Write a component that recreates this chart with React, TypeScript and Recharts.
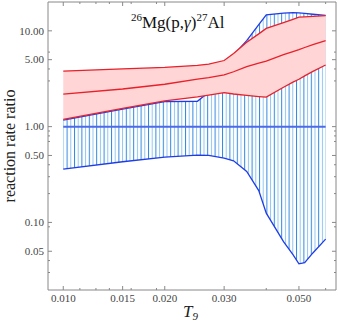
import { ComposedChart, Area, Line, XAxis, YAxis, ReferenceLine } from 'recharts'

const temps = [0.010, 0.015, 0.020, 0.025, 0.027, 0.030, 0.032, 0.035, 0.038, 0.040, 0.045, 0.048, 0.050, 0.052, 0.055, 0.060]
const redHigh = [3.8, 4.0, 4.15, 4.35, 4.5, 4.9, 5.8, 7.6, 9.3, 10.6, 12.2, 13.2, 13.9, 14.0, 14.15, 14.4]
const redMid = [2.18, 2.47, 2.77, 3.13, 3.25, 3.47, 3.74, 4.24, 4.6, 4.84, 5.63, 6.08, 6.35, 6.7, 7.16, 7.9]
const redLow = [1.19, 1.55, 1.86, 2.04, 2.13, 2.26, 2.19, 2.12, 2.06, 2.03, 2.58, 2.91, 3.12, 3.39, 3.78, 4.4]
const blueHigh = [1.17, 1.52, 1.82, 1.84, 2.3, 4.5, 5.6, 7.9, 11.6, 14.7, 15.3, 15.5, 15.4, 15.2, 14.9, 14.5]
const blueLow = [0.36, 0.43, 0.48, 0.505, 0.5, 0.47, 0.44, 0.34, 0.215, 0.125, 0.063, 0.046, 0.037, 0.038, 0.048, 0.067]

const xMajor = [0.010, 0.015, 0.020, 0.030, 0.050]
const xMinor = [0.0112, 0.0125, 0.0137, 0.0159, 0.0189, 0.040, 0.060]
const yMajor = [0.05, 0.1, 0.5, 1, 5, 10]
const yMinor = [0.03, 0.04, 0.09, 0.2, 0.3, 0.4, 0.7, 0.8, 0.9, 3, 4, 6]

const data = temps.map((t, i) => ({
  t,
  red: [redLow[i], redHigh[i]],
  mid: redMid[i],
  blue: [blueLow[i], blueHigh[i]],
}))

const FONT = '"Liberation Serif", "DejaVu Serif", serif'
const AXIS = '#888'
const RED = '#e8202a'
const BLUE = '#1f3de6'

function isMajor(v: number, list: number[]) {
  return list.some((m) => Math.abs(m - v) / m < 1e-6)
}

function makeTick(side: 'bottom' | 'top' | 'left' | 'right') {
  return (p: any) => {
    const { x, y, payload } = p
    const v = payload.value as number
    const major = isMajor(v, side === 'bottom' || side === 'top' ? xMajor : yMajor)
    const len = major ? 4 : 2
    let line
    if (side === 'bottom') line = <line x1={x} y1={y} x2={x} y2={y - len} stroke={AXIS} />
    else if (side === 'top') line = <line x1={x} y1={y} x2={x} y2={y + len} stroke={AXIS} />
    else if (side === 'left') line = <line x1={x} y1={y} x2={x + len} y2={y} stroke={AXIS} />
    else line = <line x1={x} y1={y} x2={x - len} y2={y} stroke={AXIS} />
    let label = null
    if (major && side === 'bottom') {
      label = (
        <text x={x} y={y + 12} textAnchor="middle" fontSize={11} fontFamily={FONT} fill="#444">
          {v.toFixed(3)}
        </text>
      )
    }
    if (major && side === 'left') {
      label = (
        <text x={x - 4} y={y + 3.7} textAnchor="end" fontSize={11} fontFamily={FONT} fill="#444">
          {v.toFixed(2)}
        </text>
      )
    }
    return (
      <g>
        {line}
        {label}
      </g>
    )
  }
}

const xTicks = [...xMajor, ...xMinor].sort((a, b) => a - b)
const yTicks = [...yMajor, ...yMinor].sort((a, b) => a - b)
const xDomain = [0.00901, 0.0644]
const yDomain = [0.0197, 20]

export default function App() {
  return (
    <div style={{ position: 'absolute', left: 0, top: 0, width: 338, height: 327, background: '#fff' }}>
      <ComposedChart width={338} height={327} data={data} margin={{ top: 0, right: 0, bottom: 0, left: 0 }}>
        <defs>
          <pattern id="hatch" patternUnits="userSpaceOnUse" width={7.4} height={10}>
            <line x1={0.5} y1={0} x2={0.5} y2={10} stroke="#2f86e0" strokeWidth={1} />
            <line x1={4.2} y1={0} x2={4.2} y2={10} stroke="#8ec5f2" strokeWidth={1} />
          </pattern>
        </defs>
        <XAxis dataKey="t" type="number" scale="log" domain={xDomain} allowDataOverflow ticks={xTicks}
          interval={0} height={37} tickSize={0} tickMargin={0} tickLine={false}
          axisLine={{ stroke: AXIS }} tick={makeTick('bottom')} />
        <XAxis xAxisId="top" orientation="top" dataKey="t" type="number" scale="log" domain={xDomain}
          allowDataOverflow ticks={xTicks} interval={0} height={2} tickSize={0} tickMargin={0}
          tickLine={false} axisLine={{ stroke: AXIS }} tick={makeTick('top')} />
        <YAxis type="number" scale="log" domain={yDomain} allowDataOverflow ticks={yTicks} interval={0}
          width={48} tickSize={0} tickMargin={0} tickLine={false} axisLine={{ stroke: AXIS }}
          tick={makeTick('left')} />
        <YAxis yAxisId="right" orientation="right" type="number" scale="log" domain={yDomain}
          allowDataOverflow ticks={yTicks} interval={0} width={2} tickSize={0} tickMargin={0}
          tickLine={false} axisLine={{ stroke: AXIS }} tick={makeTick('right')} />
        <Area dataKey="blue" type="linear" fill="url(#hatch)" fillOpacity={1} stroke={BLUE}
          strokeWidth={1.3} isAnimationActive={false} zIndex={100} />
        <ReferenceLine segment={[{ x: temps[0], y: 1 }, { x: temps[temps.length - 1], y: 1 }]}
          stroke="#4d6be8" strokeWidth={2} />
        <Area dataKey="red" type="linear" fill="#ffd5d5" fillOpacity={1} stroke={RED}
          strokeWidth={1.3} isAnimationActive={false} zIndex={101} />
        <Line dataKey="mid" type="linear" stroke={RED} strokeWidth={1.3} dot={false}
          isAnimationActive={false} />
      </ComposedChart>
      <svg width={338} height={327} style={{ position: 'absolute', left: 0, top: 0, pointerEvents: 'none' }}>
        <text x={131} y={28} fontFamily={FONT} fontSize={17} fill="#111">
          <tspan fontSize={11} dy={-7}>26</tspan>
          <tspan dy={7}>Mg(p,</tspan>
          <tspan fontStyle="italic">γ</tspan>
          <tspan>)</tspan>
          <tspan fontSize={11} dy={-7}>27</tspan>
          <tspan dy={7}>Al</tspan>
        </text>
        <text transform="translate(15,146) rotate(-90)" textAnchor="middle" fontFamily={FONT} fontSize={16} fill="#222">
          reaction rate ratio
        </text>
        <text x={183} y={317} fontFamily={FONT} fontSize={17} fontStyle="italic" fill="#222">
          T<tspan fontSize={11} dy={3}>9</tspan>
        </text>
      </svg>
    </div>
  )
}
